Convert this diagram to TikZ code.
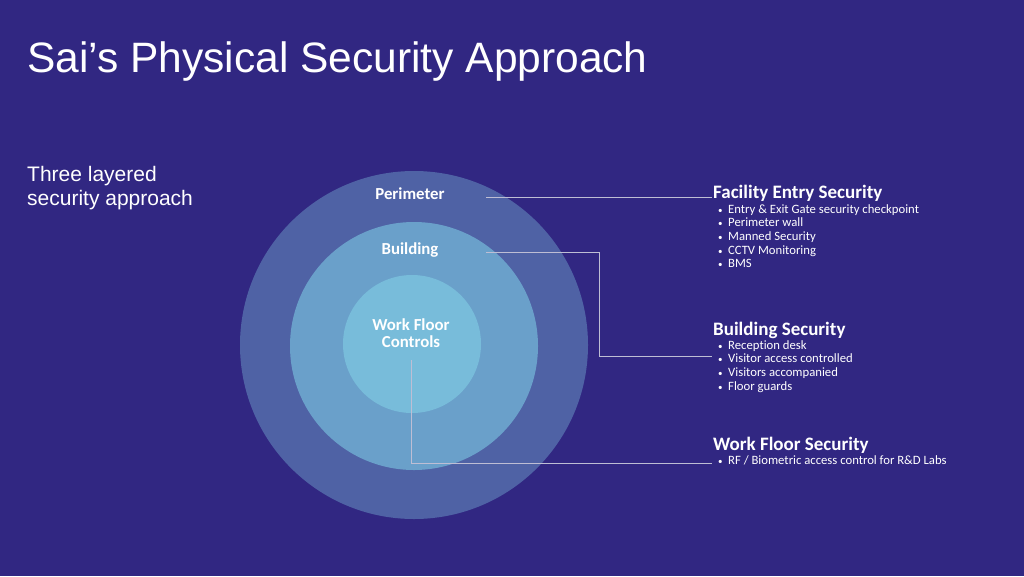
\documentclass[tikz,border=0pt]{standalone}
\usepackage{fontspec}
\setmainfont{Carlito}[Ligatures=NoCommon]
\newfontfamily\arialfont{Liberation Sans}
\usetikzlibrary{positioning}
\definecolor{slidebg}{RGB}{49,39,130}
\definecolor{outerring}{RGB}{79,98,165}
\definecolor{middlering}{RGB}{106,160,202}
\definecolor{innerring}{RGB}{120,188,218}
\definecolor{linkgray}{RGB}{190,190,212}
\newcommand{\bul}{\makebox[10pt][l]{\fontsize{9}{9}\selectfont\textbullet}}

\begin{document}
\begin{tikzpicture}[x=1pt, y=-1pt,
  ring/.style={circle, inner sep=0pt},
  ringlabel/.style={font=\bfseries\fontsize{16.8}{17.5}\selectfont, text=white, align=center, inner sep=0pt},
  heading/.style={font=\bfseries\fontsize{19}{22}\selectfont, text=white, anchor=base west, inner sep=0pt},
  items/.style={font=\fontsize{12.7}{13.7}\selectfont, text=white, align=left, inner sep=0pt},
  link/.style={draw=linkgray, line width=0.7pt}
]
\useasboundingbox (0,0) rectangle (1024,576);
\fill[slidebg] (0,0) rectangle (1024,576);

% title and left note
\node[anchor=base west, inner sep=0pt, text=white, font=\arialfont\fontsize{42.5}{46}\selectfont] (title) at (27,72) {Sai’s Physical Security Approach};
\node[anchor=north west, inner sep=0pt, text=white, align=left, font=\arialfont\fontsize{21}{24}\selectfont] (note) at (27,166) {Three layered\\security approach};

% the three rings
\node[ring, fill=outerring, minimum size=348pt] (outer) at (414,345) {};
\node[ring, fill=middlering, minimum size=248pt] (middle) at (414,346) {};
\node[ring, fill=innerring, minimum size=138pt] (inner) at (412,344) {};

\node[ringlabel] (perim) at (410,194) {Perimeter};
\node[ringlabel] (bldg) at (410,250) {Building};
\node[ringlabel] (work) at (411,333) {Work Floor\\Controls};

% right hand text
\node[heading] (fac) at (713,198) {Facility Entry Security};
\node[items, below=6pt of fac.base west, anchor=north west, xshift=5pt] (facitems) {\bul Entry \& Exit Gate security checkpoint\\\bul Perimeter wall\\\bul Manned Security\\\bul CCTV Monitoring\\\bul BMS};

\node[heading] (bs) at (713,335) {Building Security};
\node[items, below=5pt of bs.base west, anchor=north west, xshift=5pt] (bsitems) {\bul Reception desk\\\bul Visitor access controlled\\\bul Visitors accompanied\\\bul Floor guards};

\node[heading] (wf) at (713,450) {Work Floor Security};
\node[items, below=5pt of wf.base west, anchor=north west, xshift=5pt] (wfitems) {\bul RF / Biometric access control for R\&D Labs};

% connectors
\coordinate (perimend) at (486,197);
\coordinate (bldgend) at (486,252);
\coordinate (bldgtap) at (712,356);
\coordinate (workend) at (411,360);
\coordinate (worktap) at (712,463);
\draw[link] (perimend) -- ([xshift=-1pt]perimend -| fac.west);
\draw[link] (bldgend) -- ++(113,0) |- (bldgtap);
\draw[link] (workend) |- (worktap);
\end{tikzpicture}
\end{document}
